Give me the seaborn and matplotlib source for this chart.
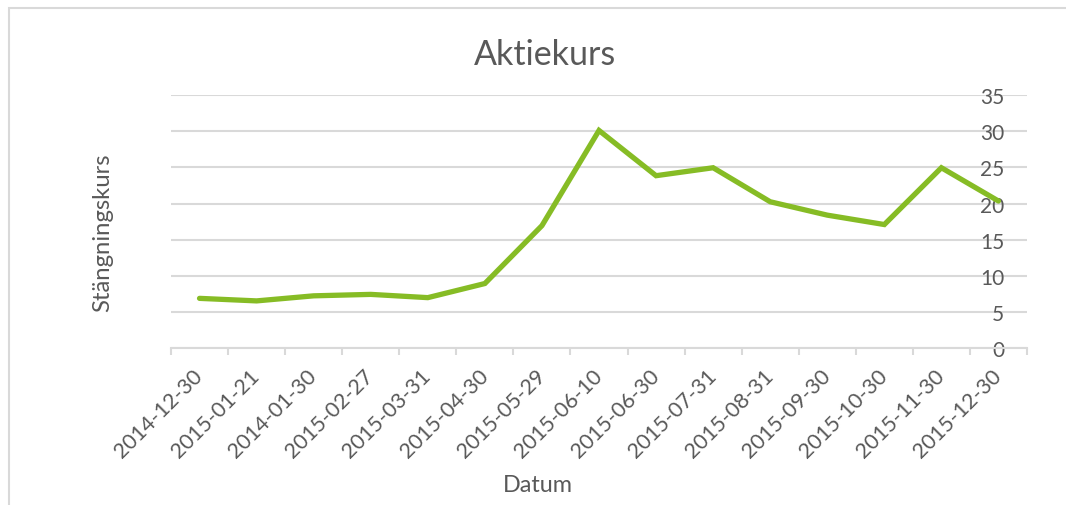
import matplotlib
matplotlib.use("Agg")
import matplotlib.pyplot as plt
import seaborn as sns
import pandas as pd
from matplotlib.ticker import MultipleLocator, FixedLocator
from matplotlib.patches import Rectangle

# ---- data ----
dates = ["2014-12-30", "2015-01-21", "2014-01-30", "2015-02-27", "2015-03-31",
         "2015-04-30", "2015-05-29", "2015-06-10", "2015-06-30", "2015-07-31",
         "2015-08-31", "2015-09-30", "2015-10-30", "2015-11-30", "2015-12-30"]
closing = [6.9, 6.55, 7.25, 7.45, 7.0, 8.95, 16.95, 30.1, 23.85, 24.95,
           20.25, 18.4, 17.1, 24.95, 20.35]
y_ticks = [0, 5, 10, 15, 20, 25, 30, 35]

title = "Aktiekurs"
x_title = "Datum"
y_title = "Stängningskurs"

df = pd.DataFrame({"Datum": dates, "Stängningskurs": closing})

sns.set_theme(style="white")
plt.rcParams["font.family"] = ["Lato", "DejaVu Sans"]

TEXT = "#595959"
GRID = "#D9D9D9"
LINE = "#86BC25"

W, H = 1066, 506
fig = plt.figure(figsize=(W / 100, H / 100), dpi=100)
ax = fig.add_axes([171 / W, 1 - 349.3 / H, (1027 - 171) / W, (349.3 - 96) / H])

sns.lineplot(data=df, x="Datum", y="Stängningskurs", sort=False, ax=ax,
             color=LINE, linewidth=3.8, solid_capstyle="round",
             solid_joinstyle="miter", zorder=5)

ax.set_xlim(-0.5, len(dates) - 0.5)
ax.set_ylim(0, 35)

# y axis: labels at right, inside the plot
ax.yaxis.tick_right()
ax.yaxis.set_major_locator(FixedLocator(y_ticks))
ax.grid(axis="y", color=GRID, linewidth=1.5)
ax.grid(axis="x", visible=False)
ax.set_axisbelow(True)
ax.tick_params(axis="y", length=0, pad=-16.5, labelsize=15, labelcolor=TEXT,
               labelright=True, labelleft=False)
for lbl in ax.get_yticklabels():
    lbl.set_ha("right")

# x axis
ax.xaxis.set_major_locator(FixedLocator(range(len(dates))))
ax.set_xticklabels(dates)
ax.xaxis.set_minor_locator(MultipleLocator(1, offset=0.5))
ax.tick_params(axis="x", which="major", length=0, pad=17, labelsize=15.5,
               labelcolor=TEXT)
ax.tick_params(axis="x", which="minor", length=5, width=1.5, color=GRID,
               bottom=True)
for lbl in ax.get_xticklabels():
    lbl.set_rotation(45)
    lbl.set_ha("right")
    lbl.set_va("center")
    lbl.set_rotation_mode("anchor")

for side in ["top", "right", "left"]:
    ax.spines[side].set_visible(False)
ax.spines["bottom"].set_color(GRID)
ax.spines["bottom"].set_linewidth(1.5)
ax.spines["bottom"].set_zorder(1)

# axis titles
ax.set_xlabel(x_title, fontsize=16.8, color=TEXT)
ax.set_ylabel(y_title, fontsize=17.2, color=TEXT)
ax.yaxis.set_label_position("left")
ax.xaxis.set_label_coords((538 - 171) / 856, (349.3 - 486) / 253.3)
ax.xaxis.label.set_va("center")
ax.yaxis.set_label_coords((103 - 171) / 856, (349.3 - 233) / 253.3)
ax.yaxis.label.set_va("center")

fig.text(545.5 / W, 1 - 55 / H, title, ha="center", va="center",
         fontsize=24.5, color=TEXT)

# chart-area frame
fig.patches.append(Rectangle((8.5 / W, -0.2), 1.2, 1.2 - 9 / H,
                             transform=fig.transFigure, fill=False,
                             edgecolor=GRID, linewidth=1.5))

fig.savefig("out.png", dpi=100, facecolor="white")
